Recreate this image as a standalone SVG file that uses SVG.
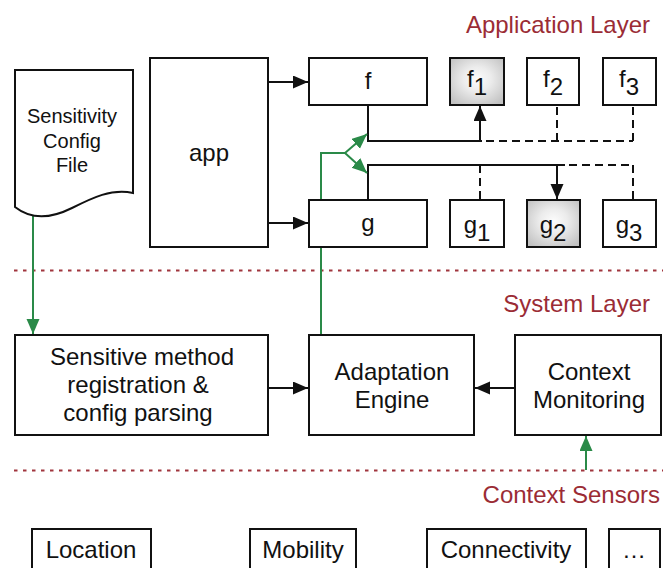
<svg xmlns="http://www.w3.org/2000/svg" width="663" height="568" viewBox="0 0 663 568">
<defs>
<style>
.box{fill:#fff;stroke:#111;stroke-width:2}
.gbox{fill:url(#shade);stroke:#111;stroke-width:2}
.t{font-family:"Liberation Sans",Arial,sans-serif;font-size:24px;fill:#111;text-anchor:middle}
.ts{font-family:"Liberation Sans",Arial,sans-serif;font-size:20px;fill:#111;text-anchor:middle}
.layer{font-family:"Liberation Sans",Arial,sans-serif;font-size:24px;fill:#9b2c35;text-anchor:end}
.sep{stroke:#a0353d;stroke-width:2;stroke-dasharray:3.5 5.5;fill:none}
.ln{stroke:#111;stroke-width:2;fill:none}
.dash{stroke:#111;stroke-width:2;fill:none;stroke-dasharray:8 5}
.gr{stroke:#2a8a48;stroke-width:2;fill:none}
</style>
<radialGradient id="shade" cx="50%" cy="45%" r="65%">
<stop offset="0" stop-color="#fcfcfc"/>
<stop offset="0.4" stop-color="#ececec"/>
<stop offset="1" stop-color="#c2c2c2"/>
</radialGradient>
<marker id="ab" markerUnits="userSpaceOnUse" markerWidth="16" markerHeight="14" refX="15" refY="6.5" orient="auto">
<path d="M0,0 L15,6.5 L0,13 z" fill="#111"/>
</marker>
<marker id="ag" markerUnits="userSpaceOnUse" markerWidth="16" markerHeight="14" refX="15" refY="6.5" orient="auto">
<path d="M0,0 L15,6.5 L0,13 z" fill="#2a8a48"/>
</marker>
</defs>
<rect width="663" height="568" fill="#fff"/>

<g id="layers">
<text class="layer" x="650" y="33">Application Layer</text>
<line class="sep" x1="14" y1="270.5" x2="663" y2="270.5"/>
<text class="layer" x="650" y="312">System Layer</text>
<line class="sep" x1="14" y1="470.5" x2="663" y2="470.5"/>
<text class="layer" x="660" y="503">Context Sensors</text>
</g>

<g id="connectors">
<line class="ln" x1="268" y1="82" x2="308" y2="82" marker-end="url(#ab)"/>
<line class="ln" x1="268" y1="223" x2="308" y2="223" marker-end="url(#ab)"/>
<polyline class="ln" points="368,105 368,141 482,141"/>
<line class="ln" x1="480" y1="141" x2="480" y2="106" marker-end="url(#ab)"/>
<line class="dash" x1="486" y1="141" x2="633" y2="141"/>
<line class="dash" x1="557" y1="141" x2="557" y2="105"/>
<line class="dash" x1="633" y1="141" x2="633" y2="105"/>
<polyline class="ln" points="368,200 368,165 565,165"/>
<line class="ln" x1="557" y1="165" x2="557" y2="199" marker-end="url(#ab)"/>
<line class="dash" x1="569" y1="165" x2="633" y2="165"/>
<line class="dash" x1="480" y1="165" x2="480" y2="200"/>
<line class="dash" x1="633" y1="165" x2="633" y2="200"/>
<polyline class="gr" points="321,335 321,153 345,153"/>
<line class="gr" x1="345" y1="153" x2="367" y2="134" marker-end="url(#ag)"/>
<line class="gr" x1="345" y1="153" x2="367" y2="173" marker-end="url(#ag)"/>
<line class="gr" x1="33" y1="216" x2="33" y2="334" marker-end="url(#ag)"/>
<line class="ln" x1="268" y1="388" x2="308" y2="388" marker-end="url(#ab)"/>
<line class="ln" x1="515" y1="388" x2="475" y2="388" marker-end="url(#ab)"/>
<line class="gr" x1="586" y1="470" x2="586" y2="436" marker-end="url(#ag)"/>
</g>

<g id="config-file">
<path class="box" d="M15,70 H133 V193 C112,188 92,198 72,208 C56,216 34,222 15,207 Z"/>
<text class="ts" x="72" y="123">Sensitivity</text>
<text class="ts" x="72" y="148">Config</text>
<text class="ts" x="72" y="172">File</text>
</g>

<g id="app">
<rect class="box" x="150" y="58" width="118" height="189"/>
<text class="t" x="209" y="161">app</text>
</g>

<g id="f">
<rect class="box" x="309" y="58" width="118" height="47"/>
<text class="t" x="368" y="89">f</text>
</g>
<g id="f1">
<rect class="gbox" x="450" y="58" width="54" height="47"/>
<text class="t" x="477" y="87">f<tspan dy="8">1</tspan></text>
</g>
<g id="f2">
<rect class="box" x="527" y="58" width="52" height="47"/>
<text class="t" x="553" y="87">f<tspan dy="8">2</tspan></text>
</g>
<g id="f3">
<rect class="box" x="603" y="58" width="53" height="47"/>
<text class="t" x="629" y="87">f<tspan dy="8">3</tspan></text>
</g>

<g id="g">
<rect class="box" x="309" y="200" width="118" height="47"/>
<text class="t" x="368" y="231">g</text>
</g>
<g id="g1">
<rect class="box" x="450" y="200" width="54" height="47"/>
<text class="t" x="477" y="233">g<tspan dy="8">1</tspan></text>
</g>
<g id="g2">
<rect class="gbox" x="527" y="200" width="53" height="47"/>
<text class="t" x="553" y="233">g<tspan dy="8">2</tspan></text>
</g>
<g id="g3">
<rect class="box" x="603" y="200" width="53" height="47"/>
<text class="t" x="629" y="233">g<tspan dy="8">3</tspan></text>
</g>

<g id="registration">
<rect class="box" x="15" y="335" width="253" height="100"/>
<text class="t" x="142" y="365">Sensitive method</text>
<text class="t" x="138" y="393">registration &amp;</text>
<text class="t" x="138" y="421">config parsing</text>
</g>

<g id="adaptation">
<rect class="box" x="309" y="335" width="165" height="100"/>
<text class="t" x="392" y="380">Adaptation</text>
<text class="t" x="392" y="408">Engine</text>
</g>

<g id="monitoring">
<rect class="box" x="515" y="335" width="146" height="100"/>
<text class="t" x="589" y="380">Context</text>
<text class="t" x="589" y="408">Monitoring</text>
</g>

<g id="location">
<rect class="box" x="32" y="529" width="119" height="50"/>
<text class="t" x="91" y="558">Location</text>
</g>
<g id="mobility">
<rect class="box" x="250" y="529" width="106" height="50"/>
<text class="t" x="303" y="558">Mobility</text>
</g>
<g id="connectivity">
<rect class="box" x="427" y="529" width="159" height="50"/>
<text class="t" x="506" y="558">Connectivity</text>
</g>
<g id="more">
<rect class="box" x="609" y="529" width="51" height="50"/>
<text class="t" x="634" y="558">…</text>
</g>
</svg>
